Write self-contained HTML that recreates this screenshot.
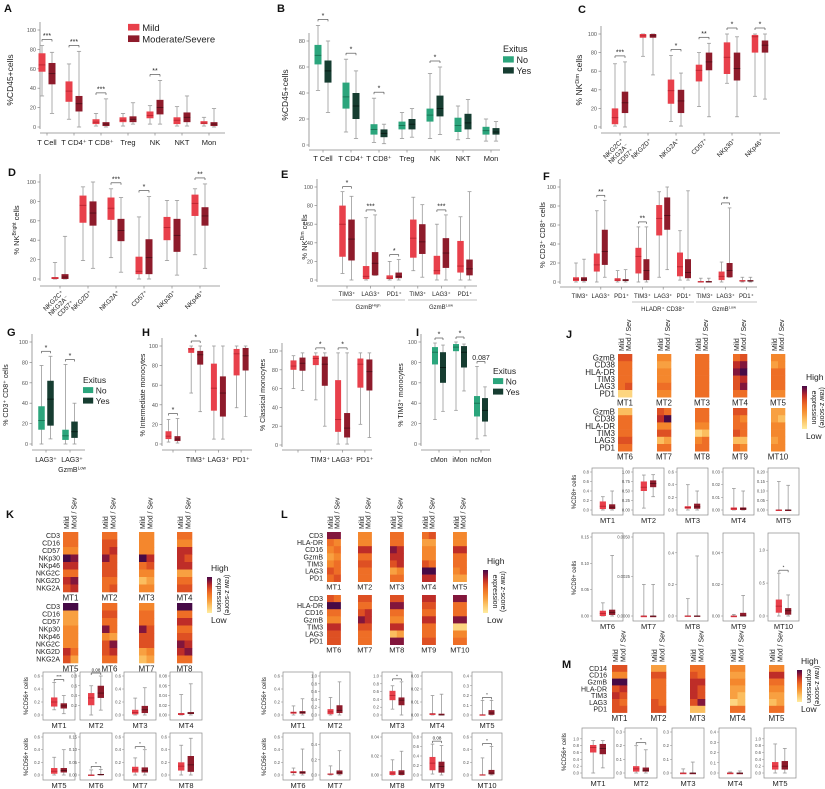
<!DOCTYPE html>
<html><head><meta charset="utf-8">
<style>
html,body{margin:0;padding:0;background:#fff;}
svg{display:block;font-family:"Liberation Sans",Arial,sans-serif;}
</style></head>
<body>
<svg id="fig" width="825" height="789" viewBox="0 0 825 789" xmlns="http://www.w3.org/2000/svg"></svg>
<script>
// ---------------- DATA ----------------
const A_categories = ['T Cell','T CD4⁺','T CD8⁺','Treg','NK','NKT','Mon'];
const A_mild = [[32,57,64,76,84],[8,26,37,47,65],[1,3,5,8,14],[1,5,7,10,14],[3,9,12,16,22],[1,3,7,10,21],[1,3,4,6,10]];
const A_severe = [[14,44,55,66,77],[0,16,24,32,78],[0,1,3,5,29],[3,5,8,11,25],[3,13,20,28,48],[1,5,10,15,32],[0,1,3,5,19]];
const A_sig = ['***','***','***','','**','',''];
const A_ticks = [0,20,40,60,80,100];

const B_categories = ['T Cell','T CD4⁺','T CD8⁺','Treg','NK','NKT','Mon'];
const B_no = [[42,62,69,77,92],[10,28,37,48,66],[2,8,12,16,36],[5,12,15,18,25],[5,18,23,28,55],[4,10,15,21,30],[3,8,11,14,20]];
const B_yes = [[25,48,57,65,80],[5,20,30,40,57],[1,6,9,12,16],[6,12,16,20,28],[8,22,28,38,60],[5,12,17,24,35],[3,8,10,13,18]];
const B_sig = ['*','*','*','','*','',''];
const B_ticks = [0,20,40,60,80];

const C_categories = [['NKG2C⁺','NKG2A⁻','CD57⁺'],['NKG2D⁺'],['NKG2A⁺'],['CD57⁺'],['NKp30⁺'],['NKp46⁺']];
const C_mild = [[1,3,10,20,68],[76,96,98,100,100],[6,25,39,51,77],[22,49,61,67,80],[47,57,75,91,100],[33,80,97,99,100]];
const C_severe = [[0,15,26,38,70],[56,96,98,100,100],[1,15,28,40,58],[11,61,70,80,90],[11,50,63,80,97],[30,80,88,93,100]];
const C_sig = ['***','','*','**','*','*'];
const C_ticks = [0,20,40,60,80,100];

const D_categories = [['NKG2C⁺','NKG2A⁻','CD57⁺'],['NKG2D⁺'],['NKG2A⁺'],['CD57⁺'],['NKp30⁺'],['NKp46⁺']];
const D_mild = [[0,0,1,2,17],[19,58,76,86,95],[22,61,73,84,93],[0,5,8,23,64],[19,40,53,64,81],[25,65,78,87,93]];
const D_severe = [[0,0,2,5,44],[11,55,68,80,100],[7,39,50,62,84],[0,5,22,41,85],[4,28,45,62,81],[11,55,65,74,98]];
const D_sig = ['','','***','*','','**'];
const D_ticks = [0,20,40,60,80,100];

const E_categories = ['TIM3⁺','LAG3⁺','PD1⁺','TIM3⁺','LAG3⁺','PD1⁺'];
const E_mild = [[7,25,60,80,95],[0,1,4,15,67],[0,1,2,5,20],[10,24,45,65,89],[0,6,10,26,60],[0,8,15,42,68]];
const E_severe = [[0,21,44,65,90],[5,5,18,30,70],[0,2,4,8,22],[3,28,41,60,81],[0,13,29,45,70],[0,5,12,22,95]];
const E_sig = ['*','***','*','','***',''];
const E_ticks = [0,20,40,60,80,100];

const F_categories = ['TIM3⁺','LAG3⁺','PD1⁺','TIM3⁺','LAG3⁺','PD1⁺','TIM3⁺','LAG3⁺','PD1⁺'];
const F_mild = [[0,1,3,5,20],[0,11,18,30,75],[0,1,2,4,12],[0,9,27,36,58],[5,49,67,81,95],[2,6,16,31,54],[0,0,0,1,4],[0,2,6,11,21],[0,1,1,2,5]];
const F_severe = [[0,1,3,5,24],[5,18,32,55,86],[0,1,2,3,13],[0,2,12,24,58],[13,55,70,89,100],[2,4,10,24,96],[0,0,0,1,4],[5,5,12,20,78],[0,1,1,2,5]];
const F_sig = ['','**','','**','','','','**',''];
const F_ticks = [0,20,40,60,80,100];

const G_no = [[0,14,23,37,77],[0,4,8,14,78]];
const G_yes = [[5,18,44,62,86],[0,6,12,22,40]];
const G_sig = ['*','*'];
const G_ticks = [0,20,40,60,80,100];

const H1_categories = ['','TIM3⁺','LAG3⁺','PD1⁺'];
const H1_mild = [[2,5,8,13,25],[52,93,97,98,100],[5,34,57,82,100],[37,70,92,97,100]];
const H1_severe = [[1,3,5,8,26],[33,81,91,95,100],[5,28,52,69,100],[28,75,90,98,100]];
const H1_sig = ['*','*','',''];
const H2_categories = ['','TIM3⁺','LAG3⁺','PD1⁺'];
const H2_mild = [[60,80,84,90,95],[48,85,92,95,98],[1,14,27,69,98],[22,61,86,92,98]];
const H2_severe = [[58,79,87,93,98],[20,63,86,94,98],[1,8,18,34,98],[8,58,78,91,98]];
const H2_sig = ['','*','*',''];
const H_ticks = [0,20,40,60,80,100];

const I_categories = ['cMon','iMon','ncMon'];
const I_no = [[24,78,90,95,99],[33,91,95,98,100],[5,27,40,47,76]];
const I_yes = [[32,60,75,90,97],[52,75,90,96,98],[8,22,33,45,56]];
const I_sig = ['*','*','0.087'];
const I_ticks = [0,20,40,60,80,100];

const J_rows = ['GzmB','CD38','HLA-DR','TIM3','LAG3','PD1'];
const J_heat = [
 [[6,6],[5,5],[5,5],[5,5],[5,6],[1,1]],
 [[4,4],[3,3],[4,4],[4,4],[5,5],[4,4]],
 [[5,5],[5,5],[5,5],[5,5],[5,5],[5,5]],
 [[5,6],[7,8],[8,9],[6,7],[6,8],[5,5]],
 [[4,4],[3,4],[5,5],[5,5],[5,5],[4,4]],
 [[2,2],[5,5],[5,5],[5,5],[6,6],[5,5]],
 [[6,5],[7,9],[4,4],[6,6],[2,3],[5,5]],
 [[5,5],[5,5],[4,4],[1,2],[4,5],[5,5]],
 [[6,6],[5,4],[5,5],[6,5],[2,2],[5,4]],
 [[3,3],[3,2],[4,4],[4,4],[3,4],[4,4]]];
const K_rows = ['CD3','CD16','CD57','NKp30','NKp46','NKG2C','NKG2D','NKG2A'];
const K_heat = [
 [[5,5],[5,5],[4,4],[9,8],[7,7],[5,5],[7,8],[6,7]],
 [[5,5],[6,6],[6,7],[8,6],[6,6],[6,6],[5,5],[5,6]],
 [[4,4],[4,4],[4,4],[9,7],[5,6],[4,4],[2,3],[4,4]],
 [[5,5],[4,4],[7,7],[7,6],[7,7],[3,3],[5,5],[6,6]],
 [[9,9],[3,3],[3,3],[4,4],[4,4],[4,4],[7,5],[6,3]],
 [[5,5],[6,6],[5,5],[8,5],[4,3],[6,8],[6,7],[5,5]],
 [[4,4],[5,5],[5,5],[8,6],[6,6],[6,6],[3,4],[2,3]],
 [[9,9],[5,5],[7,7],[5,5],[6,6],[8,7],[7,8],[5,5]]];
const L_rows = ['CD3','HLA-DR','CD16','GzmB','TIM3','LAG3','PD1'];
const L_heat = [
 [[8,8],[5,4],[4,5],[3,4],[4,5],[6,5],[5,6]],
 [[4,4],[4,4],[7,7],[5,5],[6,6],[5,5],[5,5]],
 [[5,5],[5,5],[8,7],[7,7],[6,7],[3,4],[5,5]],
 [[5,6],[3,3],[4,4],[4,4],[6,5],[9,9],[7,7]],
 [[4,4],[4,4],[7,7],[5,5],[5,5],[4,5],[3,3]],
 [[6,5],[9,9],[5,5],[4,4],[7,7],[6,6],[6,6]],
 [[6,6],[5,5],[6,7],[8,7],[6,6],[5,5],[5,5]],
 [[6,6],[8,8],[5,5],[4,4],[7,7],[2,3],[8,8]],
 [[7,7],[6,6],[5,5],[7,7],[5,5],[5,5],[6,6]],
 [[8,8],[5,5],[5,5],[8,8],[1,1],[4,4],[5,5]]];
const M_rows = ['CD14','CD16','GzmB','HLA-DR','TIM3','LAG3','PD1'];
const M_heat = [
 [[6,6],[4,4],[9,9],[6,7],[7,6],[6,5],[6,6]],
 [[3,3],[6,6],[5,5],[5,5],[5,5],[6,5],[6,6]],
 [[5,5],[6,5],[7,7],[7,6],[7,6],[6,8],[2,2]],
 [[4,4],[3,3],[4,4],[3,3],[3,2],[1,2],[5,5]],
 [[4,4],[7,7],[5,5],[4,4],[3,3],[2,3],[5,5]]];

const J_box_max = [0.8,1.0,0.6,0.03,0.2,0.15,0.005,0.5,0.05,1.2];
const J_box_ticks = [['0.0','0.2','0.4','0.6','0.8'],['0.00','0.25','0.50','0.75','1.00'],['0.0','0.2','0.4','0.6'],['0.00','0.01','0.02','0.03'],['0.00','0.05','0.10','0.15','0.20'],['0.00','0.05','0.10','0.15'],['0.0000','0.0025','0.0050'],['0.0','0.2','0.4'],['0.00','0.02','0.04'],['0.0','0.5','1.0']];
const J_box_mild = [[0,0.02,0.08,0.18,0.28],[0.05,0.5,0.6,0.75,0.92],[0,0.02,0.04,0.06,0.4],[0,0,0.001,0.002,0.017],[0,0,0,0.001,0.15],[0,0,0.005,0.01,0.025],[0,0,0,0,0.002],[0,0,0,0.002,0.11],[0,0,0,0,0.001],[0,0.05,0.15,0.25,0.65]];
const J_box_sev = [[0,0.02,0.06,0.12,0.4],[0.35,0.6,0.7,0.78,0.93],[0,0.02,0.05,0.1,0.3],[0,0,0.001,0.002,0.015],[0,0,0,0.001,0.13],[0,0.002,0.007,0.012,0.115],[0,0,0,0,0.002],[0,0,0,0.002,0.38],[0,0,0,0.002,0.013],[0,0.02,0.08,0.12,0.32]];
const J_box_sig = ['','','','','','','','','','*'];

const K_box_max = [0.6,0.8,0.6,0.08,0.6,0.15,0.6,0.6];
const K_box_ticks = [['0.0','0.2','0.4','0.6'],['0.2','0.4','0.6','0.8'],['0.0','0.2','0.4','0.6'],['0.00','0.02','0.04','0.06','0.08'],['0.0','0.2','0.4','0.6'],['0.00','0.05','0.10','0.15'],['0.0','0.2','0.4','0.6'],['0.0','0.2','0.4','0.6']];
const K_box_mild = [[0.08,0.13,0.2,0.27,0.5],[0,0.2,0.35,0.45,0.6],[0,0.01,0.04,0.08,0.26],[0,0,0.002,0.004,0.042],[0,0.02,0.06,0.11,0.28],[0,0,0,0.001,0.02],[0,0.04,0.08,0.13,0.27],[0,0.07,0.14,0.2,0.47]];
const K_box_sev = [[0.02,0.1,0.14,0.18,0.3],[0.1,0.35,0.45,0.6,0.8],[0,0.03,0.08,0.14,0.42],[0,0.002,0.004,0.006,0.064],[0,0.04,0.07,0.11,0.4],[0,0,0.002,0.004,0.022],[0,0.04,0.07,0.12,0.4],[0,0.05,0.16,0.3,0.58]];
const K_box_sig = ['***','0.08','','','','*','*',''];

const L_box_max = [0.6,1.0,1.0,0.03,0.4,0.6,0.5,0.04,0.8,0.6];
const L_box_ticks = [['0.0','0.2','0.4','0.6'],['0.0','0.2','0.4','0.6','0.8','1.0'],['0.0','0.2','0.4','0.6','0.8','1.0'],['0.00','0.01','0.02','0.03'],['0.0','0.1','0.2','0.3','0.4'],['0.0','0.2','0.4','0.6'],['0.0','0.2','0.4'],['0.00','0.02','0.04'],['0.0','0.2','0.4','0.6','0.8'],['0.0','0.2','0.4','0.6']];
const L_box_mild = [[0,0.02,0.04,0.05,0.14],[0,0.02,0.08,0.15,0.45],[0.15,0.38,0.5,0.62,0.75],[0,0,0.001,0.001,0.015],[0,0,0.002,0.005,0.15],[0,0.03,0.04,0.06,0.11],[0,0.005,0.01,0.02,0.12],[0,0,0.002,0.004,0.016],[0.02,0.1,0.25,0.38,0.65],[0,0,0,0.01,0.27]];
const L_box_sev = [[0,0.02,0.04,0.06,0.25],[0,0.05,0.12,0.25,0.85],[0,0.25,0.38,0.45,0.85],[0,0,0,0.001,0.016],[0,0.002,0.02,0.05,0.15],[0,0.02,0.04,0.06,0.41],[0,0.01,0.03,0.06,0.32],[0,0,0.002,0.005,0.025],[0,0.05,0.18,0.28,0.62],[0,0.01,0.03,0.08,0.45]];
const L_box_sig = ['','','*','','*','','','','0.08','*'];

const M_box_max = [1.2,0.3,0.3,0.4,1.2];
const M_box_ticks = [['0.0','0.2','0.4','0.6','0.8','1.0'],['0.0','0.1','0.2','0.3'],['0.0','0.1','0.2','0.3'],['0.0','0.1','0.2','0.3','0.4'],['0.0','0.2','0.4','0.6','0.8','1.0']];
const M_box_mild = [[0,0.6,0.75,0.82,0.95],[0,0.01,0.03,0.05,0.2],[0,0,0,0,0.03],[0,0,0,0,0.01],[0,0.1,0.2,0.32,0.85]];
const M_box_sev = [[0.15,0.55,0.72,0.85,0.95],[0,0.01,0.02,0.04,0.17],[0,0,0,0,0.08],[0,0,0,0,0.02],[0,0.1,0.2,0.35,0.72]];
const M_box_sig = ['','*','','',''];

// ---------------- DRAWING ----------------
const NS = 'http://www.w3.org/2000/svg';
const svg = document.getElementById('fig');
const COL = {mild:'#e8404b', mildMed:'#b3202c', sev:'#8e1b2b', sevMed:'#4e0c16', no:'#2ba57c', noMed:'#15694c', yes:'#163d31', yesMed:'#06150f', axis:'#888', whisk:'#9a9a9a'};

function mk(tag, attrs, parent){
  const e = document.createElementNS(NS, tag);
  for (const k in attrs) e.setAttribute(k, attrs[k]);
  (parent || svg).appendChild(e);
  return e;
}
function group(name, parent){
  const g = mk('g', {}, parent);
  
  
  return g;
}
function txt(parent, x, y, html, size, anchor, name, extra){
  const t = mk('text', Object.assign({x:x, y:y, 'font-size':size, 'text-anchor':anchor||'start', fill:'#222'}, extra||{}), parent);
  t.innerHTML = html;
  
  
  return t;
}
function line(parent, x1, y1, x2, y2, color, w){
  return mk('line', {x1:x1, y1:y1, x2:x2, y2:y2, stroke:color, 'stroke-width':w||0.8}, parent);
}
function drawBox(parent, cx, bw, s, yf, fill, med, name){
  const g = group(name, parent);
  line(g, cx, yf(s[4]), cx, yf(s[0]), COL.whisk, 0.8);
  line(g, cx - bw*0.3, yf(s[4]), cx + bw*0.3, yf(s[4]), COL.whisk, 0.8);
  line(g, cx - bw*0.3, yf(s[0]), cx + bw*0.3, yf(s[0]), COL.whisk, 0.8);
  const top = yf(s[3]), bot = yf(s[1]);
  mk('rect', {x:cx-bw/2, y:top, width:bw, height:Math.max(1.2, bot-top), fill:fill}, g);
  line(g, cx-bw/2, yf(s[2]), cx+bw/2, yf(s[2]), med, 0.8);
  return g;
}
function bracket(parent, x1, x2, y, label, size){
  const g = group('significance-bracket', parent);
  line(g, x1, y, x2, y, '#555', 0.7);
  line(g, x1, y, x1, y+2, '#555', 0.7);
  line(g, x2, y, x2, y+2, '#555', 0.7);
  txt(g, (x1+x2)/2, y-1.5, label, size||7, 'middle', 'significance-label');
}
function panelLetter(x, y, l){
  txt(svg, x, y, l, 11, 'start', 'panel-label-' + l.toLowerCase(), {'font-weight':'bold', fill:'#111'});
}
function yLabel(parent, x, y, html, size){
  return txt(parent, x, y, html, size||8, 'middle', 'y-axis-title', {transform:'rotate(-90 '+x+' '+y+')'});
}

function bigPanel(cfg, seriesA, seriesB, ticks, sig, colsA, colsB){
  const g = group(cfg.name);
  const yf = v => cfg.y0 - v / cfg.ymax * (cfg.y0 - cfg.yTop);
  const cx = i => cfg.first + i * cfg.step;
  const ax = group('y-axis', g);
  line(ax, cfg.axisX, cfg.yTop - 8, cfg.axisX, cfg.y0 + 2, COL.axis, 0.8);
  ticks.forEach(t => {
    line(ax, cfg.axisX - 2.5, yf(t), cfg.axisX, yf(t), COL.axis, 0.7);
    txt(ax, cfg.axisX - 4, yf(t) + 2, String(t), 5.5, 'end', 'y-tick-label', {fill:'#555'});
  });
  const xa = group('x-axis', g);
  line(xa, cfg.axisX, cfg.xAxisY, cfg.xEnd, cfg.xAxisY, COL.axis, 0.8);
  seriesA.forEach((s, i) => {
    line(xa, cx(i), cfg.xAxisY, cx(i), cfg.xAxisY + 2.5, COL.axis, 0.7);
    drawBox(g, cx(i) - cfg.gap, cfg.bw, s, yf, colsA[0], colsA[1], 'box-group1-' + i);
    drawBox(g, cx(i) + cfg.gap, cfg.bw, seriesB[i], yf, colsB[0], colsB[1], 'box-group2-' + i);
    if (sig[i]) {
      const y = yf(Math.max(s[4], seriesB[i][4])) - (cfg.sigOff || 6);
      bracket(g, cx(i) - cfg.gap, cx(i) + cfg.gap, y, sig[i], cfg.sigSize || 7);
    }
  });
  return g;
}
function plainLabels(g, cats, cfg, size){
  cats.forEach((c, i) => {
    if (c) txt(g, cfg.first + i * cfg.step, cfg.labelY, c, size || 8, 'middle', 'x-tick-label');
  });
}
function rotLabels(g, cats, cfg, size){
  cats.forEach((lines, i) => {
    const x0 = cfg.first + i * cfg.step + 4, y0 = cfg.labelY;
    lines.forEach((ln, j) => {
      const x = x0 + j * 5, y = y0 + j * 5;
      txt(g, x, y, ln, size || 7, 'end', 'x-tick-label', {transform:'rotate(-45 '+x+' '+y+')'});
    });
  });
}
function legend(x, y, title, entries, cols, size){
  const g = group('legend');
  let yy = y;
  if (title) { txt(g, x, yy, title, size, 'start', 'legend-title'); yy += size + 2; }
  entries.forEach((e, i) => {
    const eg = group('legend-entry', g);
    mk('rect', {x:x, y:yy - size*0.75, width:size*1.2, height:size*0.7, fill:cols[i]}, eg);
    txt(eg, x + size*1.5, yy, e, size, 'start', 'legend-label');
    yy += size + 2;
  });
}

const HSTOPS = [[0,[255,236,160]],[2,[251,190,95]],[3,[248,160,65]],[4,[244,135,45]],[5,[238,110,38]],[6,[222,80,35]],[7,[190,45,40]],[8,[130,22,60]],[9,[70,10,70]]];
function heatColor(v){
  for (let i = 0; i < HSTOPS.length - 1; i++){
    const a = HSTOPS[i], b = HSTOPS[i+1];
    if (v <= b[0]) {
      const t = (v - a[0]) / (b[0] - a[0]);
      const c = a[1].map((q, k) => Math.round(q + (b[1][k] - q) * t));
      return 'rgb(' + c.join(',') + ')';
    }
  }
  return 'rgb(70,10,70)';
}
function heatBlock(parent, x0, y0, cw, rh, vals, label, labSize){
  const g = group('heatmap-' + label.toLowerCase(), parent);
  vals.forEach((row, r) => row.forEach((v, c) => {
    const cell = mk('rect', {x:x0 + c*cw, y:y0 + r*rh, width:cw + 0.3, height:rh + 0.3, fill:heatColor(v)}, g);
    
    
  }));
  txt(g, x0 + cw, y0 + vals.length*rh + (labSize||8.5) + 0.5, label, labSize || 8.5, 'middle', 'heatmap-title');
}
function rowLabels(parent, x, y0, rh, rows, size){
  rows.forEach((r, i) => txt(parent, x, y0 + i*rh + rh*0.5 + size*0.35, r, size, 'end', 'heatmap-row-label'));
}
function topLabels(parent, x0, cw, yb, size){
  const a = x0 + cw*0.5 + size*0.35, b = x0 + cw*1.5 + size*0.35;
  txt(parent, a, yb, 'Mild', size, 'start', 'column-label-mild', {transform:'rotate(-90 '+a+' '+yb+')'});
  txt(parent, b, yb, 'Mod / Sev', size, 'start', 'column-label-severe', {transform:'rotate(-90 '+b+' '+yb+')'});
}
function colorbar(x, y, h, name){
  const g = group(name);
  const id = 'grad' + name;
  const defs = mk('defs', {}, g);
  const lg = mk('linearGradient', {id:id, x1:0, y1:1, x2:0, y2:0}, defs);
  for (let v = 0; v <= 9; v++) mk('stop', {offset:(v/9), 'stop-color':heatColor(v)}, lg);
  mk('rect', {x:x, y:y, width:5, height:h, fill:'url(#'+id+')'}, g);
  txt(g, x + 4, y - 6, 'High', 8.5, 'start', 'colorbar-high');
  txt(g, x + 4, y + h + 10, 'Low', 8.5, 'start', 'colorbar-low');
  const cx = x + 10, cy = y + h/2;
  txt(g, cx, cy, 'expression', 7, 'middle', 'colorbar-title', {transform:'rotate(90 '+cx+' '+cy+')'});
  txt(g, cx + 8, cy, '(raw z-score)', 7, 'middle', 'colorbar-subtitle', {transform:'rotate(90 '+(cx+8)+' '+cy+')'});
}
function miniPlot(parent, x, y, w, h, ymax, ticks, a, b, label, sig){
  const g = group('boxplot-' + label.toLowerCase(), parent);
  mk('rect', {x:x, y:y, width:w, height:h, fill:'none', stroke:'#8a8a8a', 'stroke-width':0.7}, g);
  const y0 = y + h - 5, yt = y + 4;
  const yf = v => y0 - v / ymax * (y0 - yt);
  ticks.forEach(t => {
    const v = parseFloat(t);
    line(g, x - 2, yf(v), x, yf(v), '#888', 0.5);
    txt(g, x - 3, yf(v) + 1.5, t, 4.2, 'end', 'y-tick-label', {fill:'#555'});
  });
  const bw = w * 0.2;
  drawBox(g, x + w*0.35, bw, a, yf, COL.mild, COL.mildMed, 'box-mild');
  drawBox(g, x + w*0.65, bw, b, yf, COL.sev, COL.sevMed, 'box-severe');
  if (sig) bracket(g, x + w*0.35, x + w*0.65, yf(Math.max(a[4], b[4])) - 3, sig, 4.5);
  txt(g, x + w/2, y + h + 8, label, 7.5, 'middle', 'boxplot-title');
}

// ---- Panel A ----
panelLetter(4, 12, 'A');
const cfgA = {name:'panel-a', axisX:40, yTop:30, y0:127, ymax:100, first:47, step:27, gap:5, bw:7, xAxisY:133, xEnd:225, labelY:145, sigOff:6};
const gA = bigPanel(cfgA, A_mild, A_severe, A_ticks, A_sig, [COL.mild, COL.mildMed], [COL.sev, COL.sevMed]);
plainLabels(gA, A_categories, cfgA, 7.5);
yLabel(gA, 13, 80, '%CD45+cells', 8.5);
legend(128, 31, null, ['Mild','Moderate/Severe'], [COL.mild, COL.sev], 9.5);

// ---- Panel B ----
panelLetter(277, 12, 'B');
const cfgB = {name:'panel-b', axisX:309, yTop:41, y0:145, ymax:80, first:323, step:28, gap:5, bw:7, xAxisY:150, xEnd:500, labelY:161, sigOff:6};
const gB = bigPanel(cfgB, B_no, B_yes, B_ticks, B_sig, [COL.no, COL.noMed], [COL.yes, COL.yesMed]);
plainLabels(gB, B_categories, cfgB, 7.5);
yLabel(gB, 288, 95, '%CD45+cells', 8.5);
legend(503, 52, 'Exitus', ['No','Yes'], [COL.no, COL.yes], 9);

// ---- Panel C ----
panelLetter(578, 13, 'C');
const cfgC = {name:'panel-c', axisX:601, yTop:34, y0:127, ymax:100, first:620, step:28, gap:5, bw:6.5, xAxisY:133, xEnd:780, labelY:141, sigOff:6};
const gC = bigPanel(cfgC, C_mild, C_severe, C_ticks, C_sig, [COL.mild, COL.mildMed], [COL.sev, COL.sevMed]);
rotLabels(gC, C_categories, cfgC, 6.5);
yLabel(gC, 582, 80, '% NK<tspan font-size="5.5" dy="-3">Dim</tspan><tspan dy="3"> cells</tspan>', 8.5);

// ---- Panel D ----
panelLetter(8, 176, 'D');
const cfgD = {name:'panel-d', axisX:40, yTop:182, y0:279, ymax:100, first:60, step:28, gap:5, bw:7, xAxisY:286, xEnd:220, labelY:293, sigOff:6};
const gD = bigPanel(cfgD, D_mild, D_severe, D_ticks, D_sig, [COL.mild, COL.mildMed], [COL.sev, COL.sevMed]);
rotLabels(gD, D_categories, cfgD, 6.5);
yLabel(gD, 19, 230, '% NK<tspan font-size="5" dy="-3">Bright</tspan><tspan dy="3"> cells</tspan>', 7.5);

// ---- Panel E ----
panelLetter(281, 178, 'E');
const cfgE = {name:'panel-e', axisX:317, yTop:187, y0:280, ymax:100, first:347, step:23.6, gap:4.5, bw:6.5, xAxisY:286, xEnd:477, labelY:296, sigOff:5};
const gE = bigPanel(cfgE, E_mild, E_severe, E_ticks, E_sig, [COL.mild, COL.mildMed], [COL.sev, COL.sevMed]);
plainLabels(gE, E_categories, cfgE, 6);
line(gE, 332, 300, 405, 300, '#888', 0.6);
line(gE, 408, 300, 477, 300, '#888', 0.6);
txt(gE, 368, 309, 'GzmB<tspan font-size="4" dy="-2.5">High</tspan>', 6, 'middle', 'group-label-gzmb-high');
txt(gE, 441, 309, 'GzmB<tspan font-size="4" dy="-2.5">Low</tspan>', 6, 'middle', 'group-label-gzmb-low');
yLabel(gE, 307, 237, '% NK<tspan font-size="5" dy="-3">Dim</tspan><tspan dy="3"> cells</tspan>', 7.5);

// ---- Panel F ----
panelLetter(543, 180, 'F');
const cfgF = {name:'panel-f', axisX:560, yTop:187, y0:282, ymax:100, first:580, step:20.8, gap:4, bw:6, xAxisY:287, xEnd:757, labelY:298, sigOff:5};
const gF = bigPanel(cfgF, F_mild, F_severe, F_ticks, F_sig, [COL.mild, COL.mildMed], [COL.sev, COL.sevMed]);
plainLabels(gF, F_categories, cfgF, 6);
line(gF, 632, 302, 694, 302, '#888', 0.6);
line(gF, 696, 302, 757, 302, '#888', 0.6);
txt(gF, 663, 311, 'HLADR⁺ CD38⁺', 6, 'middle', 'group-label-hladr-cd38');
txt(gF, 724, 311, 'GzmB<tspan font-size="4" dy="-2.5">Low</tspan>', 6, 'middle', 'group-label-gzmb-low');
yLabel(gF, 545, 235, '% CD3⁺ CD8⁺ cells', 7.5);

// ---- Panel G ----
panelLetter(7, 336, 'G');
const cfgG = {name:'panel-g', axisX:32, yTop:342, y0:444, ymax:100, first:46, step:24, gap:4.5, bw:6.5, xAxisY:450, xEnd:85, labelY:462, sigOff:5};
const gG = bigPanel(cfgG, G_no, G_yes, G_ticks, G_sig, [COL.no, COL.noMed], [COL.yes, COL.yesMed]);
txt(gG, 46, 462, 'LAG3⁺', 7, 'middle', 'x-tick-label');
txt(gG, 72, 462, 'LAG3⁺', 7, 'middle', 'x-tick-label');
txt(gG, 72, 472, 'GzmB<tspan font-size="4.5" dy="-2.5">Low</tspan>', 7, 'middle', 'x-tick-label');
yLabel(gG, 8, 395, '% CD3⁺ CD8⁺ cells', 7);
legend(83, 383, 'Exitus', ['No','Yes'], [COL.no, COL.yes], 8.5);

// ---- Panel H ----
panelLetter(142, 336, 'H');
const cfgH1 = {name:'panel-h-intermediate', axisX:162, yTop:346, y0:444, ymax:100, first:173, step:22.7, gap:4.5, bw:6, xAxisY:450, xEnd:252, labelY:462, sigOff:5};
const gH1 = bigPanel(cfgH1, H1_mild, H1_severe, H_ticks, H1_sig, [COL.mild, COL.mildMed], [COL.sev, COL.sevMed]);
plainLabels(gH1, H1_categories, cfgH1, 7);
yLabel(gH1, 145, 395, '% Intermediate monocytes', 7);
const cfgH2 = {name:'panel-h-classical', axisX:282, yTop:351, y0:445, ymax:100, first:298, step:22.3, gap:4.5, bw:6, xAxisY:450, xEnd:372, labelY:462, sigOff:5};
const gH2 = bigPanel(cfgH2, H2_mild, H2_severe, H_ticks, H2_sig, [COL.mild, COL.mildMed], [COL.sev, COL.sevMed]);
plainLabels(gH2, H2_categories, cfgH2, 7);
yLabel(gH2, 265, 395, '% Classical monocytes', 7);

// ---- Panel I ----
panelLetter(416, 336, 'I');
const cfgI = {name:'panel-i', axisX:421, yTop:342, y0:444, ymax:100, first:439, step:21, gap:4, bw:6, xAxisY:450, xEnd:490, labelY:462, sigOff:5};
const gI = bigPanel(cfgI, I_no, I_yes, I_ticks, I_sig, [COL.no, COL.noMed], [COL.yes, COL.yesMed]);
plainLabels(gI, I_categories, cfgI, 7);
yLabel(gI, 403, 395, '% TIM3⁺ monocytes', 7);
legend(493, 374, 'Exitus', ['No','Yes'], [COL.no, COL.yes], 8.5);

// ---- Panel J ----
panelLetter(566, 338, 'J');
const gJ = group('panel-j');
const J_cols = [618, 657, 695, 733, 771];
J_heat.forEach((vals, i) => {
  const blk = Math.floor(i / 5), c = i % 5;
  const y0 = blk === 0 ? 354 : 408;
  heatBlock(gJ, J_cols[c], y0, 7, 7.2, vals, 'MT' + (i+1), 8);
  if (blk === 0) topLabels(gJ, J_cols[c], 7, 351, 7);
});
rowLabels(gJ, 615, 354, 7.2, J_rows, 8);
rowLabels(gJ, 615, 408, 7.2, J_rows, 8);
colorbar(802, 386, 43, 'colorbar-j');
const J_fx = [592, 633, 677, 723, 768];
J_box_max.forEach((m, i) => {
  const r = Math.floor(i / 5), c = i % 5;
  const y = r === 0 ? 468 : 533, h = r === 0 ? 47 : 88;
  miniPlot(gJ, J_fx[c], y, 31, h, m, J_box_ticks[i], J_box_mild[i], J_box_sev[i], 'MT' + (i+1), J_box_sig[i]);
});
yLabel(gJ, 576, 492, '%CD8+ cells', 6);
yLabel(gJ, 576, 578, '%CD8+ cells', 6);

// ---- Panel K ----
panelLetter(6, 518, 'K');
const gK = group('panel-k');
const K_cols = [63, 102, 139, 177];
K_heat.forEach((vals, i) => {
  const blk = Math.floor(i / 4), c = i % 4;
  const y0 = blk === 0 ? 532 : 603;
  heatBlock(gK, K_cols[c], y0, 7.5, 7.5, vals, 'MT' + (i+1), 8);
  if (blk === 0) topLabels(gK, K_cols[c], 7.5, 529, 7);
});
rowLabels(gK, 60, 532, 7.5, K_rows, 7);
rowLabels(gK, 60, 603, 7.5, K_rows, 7);
colorbar(207, 577, 36, 'colorbar-k');
const K_fx = [43, 80, 124, 170];
K_box_max.forEach((m, i) => {
  const r = Math.floor(i / 4), c = i % 4;
  miniPlot(gK, K_fx[c], r === 0 ? 672 : 733, 32, r === 0 ? 48 : 47, m, K_box_ticks[i], K_box_mild[i], K_box_sev[i], 'MT' + (i+1), K_box_sig[i]);
});
yLabel(gK, 28, 696, '%CD56+ cells', 6);
yLabel(gK, 28, 757, '%CD56+ cells', 6);

// ---- Panel L ----
panelLetter(281, 518, 'L');
const gL = group('panel-l');
const L_cols = [327, 358, 390, 422, 453];
L_heat.forEach((vals, i) => {
  const blk = Math.floor(i / 5), c = i % 5;
  const y0 = blk === 0 ? 532 : 595;
  heatBlock(gL, L_cols[c], y0, 6.8, 7.1, vals, 'MT' + (i+1), 7.5);
  if (blk === 0) topLabels(gL, L_cols[c], 6.8, 529, 7);
});
rowLabels(gL, 323, 532, 7.1, L_rows, 7);
rowLabels(gL, 323, 595, 7.1, L_rows, 7);
colorbar(483, 570, 43, 'colorbar-l');
const L_fx = [283, 320, 382, 422, 472];
L_box_max.forEach((m, i) => {
  const r = Math.floor(i / 5), c = i % 5;
  miniPlot(gL, L_fx[c], r === 0 ? 672 : 733, 30, r === 0 ? 48 : 47, m, L_box_ticks[i], L_box_mild[i], L_box_sev[i], 'MT' + (i+1), L_box_sig[i]);
});
yLabel(gL, 266, 696, '%CD56+ cells', 6);
yLabel(gL, 266, 757, '%CD56+ cells', 6);

// ---- Panel M ----
panelLetter(562, 668, 'M');
const gM = group('panel-m');
const M_cols = [612, 651, 690, 730, 769];
M_heat.forEach((vals, i) => {
  heatBlock(gM, M_cols[i], 665, 7.5, 6.8, vals, 'MT' + (i+1), 8);
  topLabels(gM, M_cols[i], 7.5, 662, 7);
});
rowLabels(gM, 607, 665, 6.8, M_rows, 7);
colorbar(797, 670, 32, 'colorbar-m');
const M_fx = [582, 625, 672, 719, 764];
M_box_max.forEach((m, i) => {
  miniPlot(gM, M_fx[i], 728, 32, 50, m, M_box_ticks[i], M_box_mild[i], M_box_sev[i], 'MT' + (i+1), M_box_sig[i]);
});
yLabel(gM, 566, 752, '%CD56+ cells', 6);
</script>
</body></html>
